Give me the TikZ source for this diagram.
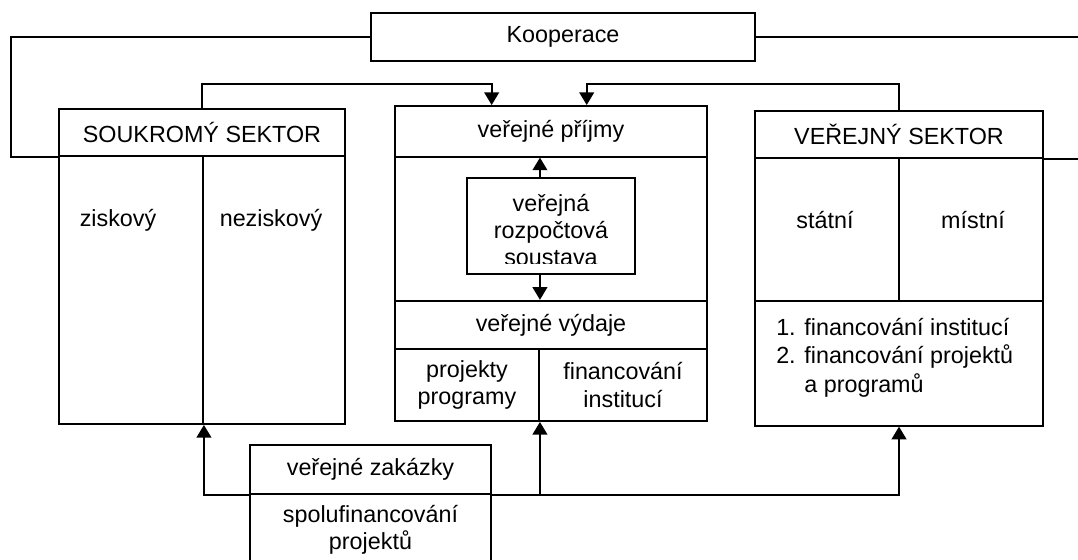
\documentclass[tikz,border=0pt]{standalone}
\usepackage{fontspec}
\setmainfont{Liberation Sans}
\usepackage{tikz}
\usetikzlibrary{arrows.meta}
\tikzstyle{box} = [rectangle, draw=black, line width=1.4pt, inner sep=0pt, align=center]
\tikzstyle{txt} = [inner sep=0pt, align=center]
\tikzstyle{arrow} = [line width=1.4pt, -{Triangle[width=11pt,length=9.5pt]}]
\tikzstyle{line} = [line width=1.4pt, -]

\begin{document}
\begin{tikzpicture}[x=0.75pt, y=-0.75pt, font=\fontsize{17.5}{20.5}\selectfont]
    \useasboundingbox (0,0) rectangle (1078,560);

    \node (koop) [box, minimum width=288pt, minimum height=36pt] at (563,37) {Kooperace};

    \node (sou_head) [box, minimum width=214.5pt, minimum height=35.25pt] at (202,132.5) {SOUKROMÝ SEKTOR};
    \node (sou_zisk) [box, minimum width=108pt, minimum height=201pt] at (131,290) {};
    \node (sou_nezisk) [box, minimum width=106.5pt, minimum height=201pt] at (274,290) {};
    \node (zisk_txt) [txt] at (118,220) {ziskový};
    \node (nezisk_txt) [txt] at (271,220) {neziskový};

    \node (ver_head) [box, minimum width=234pt, minimum height=38pt] at (551,131.3) {veřejné příjmy};
    \node (ver_body) [box, minimum width=234pt, minimum height=108pt] at (551,228.7) {};
    \node (rozp) [box, minimum width=126pt, minimum height=72.5pt] at (551,226) {};
    \begin{scope}
        \clip (467,177.7) rectangle (635,263);
        \node (rozp_txt) [txt] at (551,230) {veřejná\\rozpočtová\\soustava};
    \end{scope}
    \node (vyd_head) [box, minimum width=234pt, minimum height=36.2pt] at (551,324.9) {veřejné výdaje};
    \node (vyd_proj) [box, minimum width=108pt, minimum height=54pt] at (467,385) {projekty\\programy};
    \node (vyd_inst) [box, minimum width=126pt, minimum height=54pt] at (623,385) {financování\\institucí};

    \node (vs_head) [box, minimum width=216pt, minimum height=35.5pt] at (899,134.7) {VEŘEJNÝ SEKTOR};
    \node (vs_stat) [box, minimum width=108pt, minimum height=106.8pt] at (827,229.5) {};
    \node (vs_mist) [box, minimum width=108pt, minimum height=106.8pt] at (971,229.5) {};
    \node (stat_txt) [txt] at (825,220) {státní};
    \node (mist_txt) [txt] at (973,220) {místní};
    \node (vs_fin) [box, minimum width=216pt, minimum height=93.75pt] at (899,363.2) {};
    \node (fin_txt) [txt, anchor=west, align=left] at (776,357.5) {1. financování institucí\\[1pt]2. financování projektů\\[1pt]\phantom{2. }a programů};

    \node (zak_head) [box, minimum width=180.75pt, minimum height=36.75pt] at (370.5,469.5) {veřejné zakázky};
    \node (zak_spol) [box, minimum width=180.75pt, minimum height=54pt] at (370.5,530) {spolufinancování\\projektů};

    \coordinate (koop_l) at (11,37);
    \coordinate (koop_r) at (1083,37);

    \draw [line] (koop.west) -- (koop_l) |- (sou_head.south west);
    \draw [line] (koop.east) -- (koop_r) |- (vs_head.south east);
    \draw [arrow] (sou_head.north) -- ++(0,-24) -| ([xshift=-44.5pt]ver_head.north);
    \draw [arrow] (vs_head.north) -- ++(0,-26) -| ([xshift=26.8pt]ver_head.north);
    \draw [arrow] (rozp.north -| vyd_proj.east) -- (ver_head.south -| vyd_proj.east);
    \draw [arrow] (rozp.south -| vyd_proj.east) -- (vyd_head.north -| vyd_proj.east);
    \draw [arrow] (zak_head.south west) -| (sou_zisk.south east);
    \draw [arrow] (zak_head.south east) -| (vs_fin.south);
    \draw [arrow] (zak_head.south east -| vyd_proj.south east) -- (vyd_proj.south east);
\end{tikzpicture}
\end{document}
